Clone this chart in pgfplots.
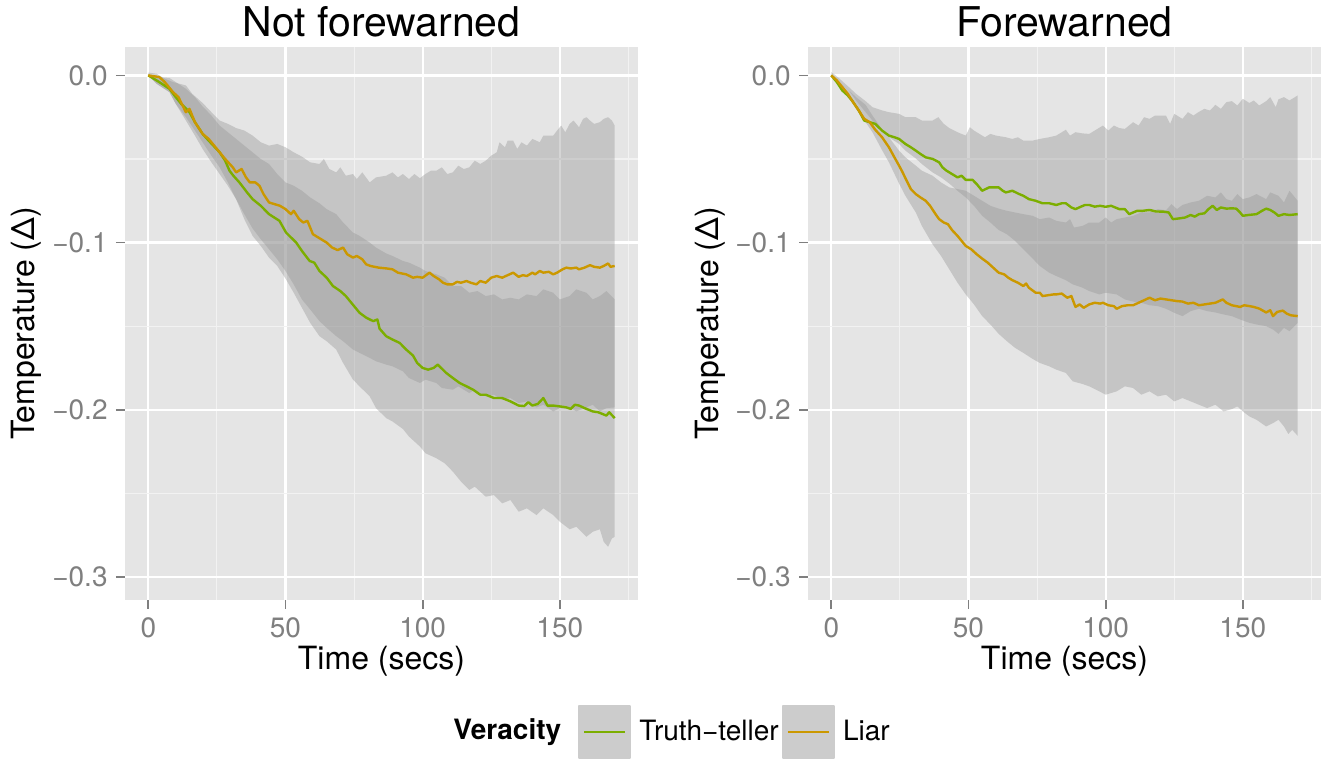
\documentclass[border=0pt]{standalone}
\usepackage{fontspec}
\setmainfont{TeX Gyre Heros}
\usepackage{pgfplots}
\usepackage{pgfplotstable}
\pgfplotsset{compat=1.18}
\usepgfplotslibrary{fillbetween}
\definecolor{bg}{RGB}{229,229,229}
\definecolor{ttgreen}{RGB}{124,174,0}
\definecolor{liargold}{RGB}{203,152,0}
\definecolor{ribbon}{RGB}{150,150,150}
\definecolor{minorgrid}{RGB}{242,242,242}
\definecolor{tickgray}{RGB}{127,127,127}
\definecolor{keygray}{RGB}{204,204,204}

% ---------------- Not forewarned ----------------
\pgfplotstableread{
t y
0 0
2 -0.002
4 -0.004
7.7 -0.008
10 -0.013
12 -0.017
15 -0.022
17 -0.028
19.8 -0.035
22 -0.039
26 -0.046
28 -0.051
29.6 -0.057
31 -0.060
33.2 -0.064
36 -0.070
38 -0.074
41 -0.078
44 -0.083
47.8 -0.087
50.2 -0.094
53.9 -0.100
56 -0.105
58.8 -0.111
60.5 -0.112
62.4 -0.117
65 -0.121
67.3 -0.126
70 -0.129
72 -0.132
75 -0.138
77 -0.142
79.5 -0.145
82 -0.147
83.5 -0.146
84.3 -0.1515
86.7 -0.156
89 -0.158
91.6 -0.160
94 -0.164
96.5 -0.1676
98 -0.172
100 -0.175
102 -0.176
104 -0.175
105.5 -0.173
108.6 -0.178
111 -0.181
113.5 -0.184
116 -0.186
118.4 -0.188
121 -0.191
123 -0.191
126 -0.193
129 -0.193
132 -0.195
135 -0.1975
137 -0.1978
138.5 -0.1955
140 -0.1975
142 -0.1965
144 -0.193
145.5 -0.1975
147.6 -0.1975
150 -0.198
152.4 -0.1986
154 -0.1995
155.5 -0.197
157 -0.1975
159 -0.199
162 -0.201
164 -0.2015
165.5 -0.2025
167 -0.2035
168 -0.2015
170 -0.205
}\nfTT

\pgfplotstableread{
t y
0 0
2 -0.0005
4 -0.001
6 -0.004
9 -0.010
11 -0.013
13.7 -0.022
15 -0.020
17 -0.028
19.8 -0.035
22 -0.038
24 -0.042
26 -0.046
28 -0.050
30.8 -0.055
32 -0.058
34 -0.056
35.6 -0.061
37 -0.064
39 -0.064
40.5 -0.066
42 -0.071
44 -0.076
46 -0.077
48 -0.078
50 -0.080
52 -0.083
53 -0.081
55 -0.086
56.5 -0.088
58 -0.087
60 -0.095
62 -0.097
65 -0.100
67 -0.103
69 -0.1045
71 -0.103
72.5 -0.107
74.6 -0.109
76 -0.108
78 -0.110
79.4 -0.113
81 -0.114
84 -0.115
87 -0.1155
89 -0.116
91 -0.118
94 -0.119
96.5 -0.121
98 -0.1205
100 -0.121
102.5 -0.118
104 -0.120
106 -0.122
107.4 -0.124
109 -0.125
111 -0.125
112.5 -0.1235
114 -0.124
116 -0.123
117.5 -0.124
119.6 -0.125
121 -0.123
123 -0.124
125 -0.121
127 -0.120
129 -0.121
131 -0.1195
133 -0.118
135 -0.1205
136.5 -0.1195
138 -0.120
140 -0.118
141 -0.119
142.7 -0.117
144 -0.118
146 -0.1175
147.6 -0.119
149 -0.118
151 -0.116
152.4 -0.115
154 -0.1155
156 -0.115
157 -0.116
159 -0.115
161 -0.1135
162.5 -0.1145
164.6 -0.115
166 -0.114
167.6 -0.1125
168.5 -0.1145
170 -0.114
}\nfLI

% Liar ribbon (not forewarned): upper and lower edges
\pgfplotstableread{
t y
0 0.0017
3 0.001
6 -0.002
9 -0.004
13.7 -0.006
16 -0.011
19.8 -0.0165
23 -0.022
26 -0.027
29 -0.029
32 -0.0315
35 -0.033
38 -0.036
41 -0.040
44 -0.042
47 -0.041
50 -0.043
53 -0.046
56 -0.0486
59 -0.052
62.4 -0.053
64 -0.050
66 -0.056
68.5 -0.058
70 -0.055
72 -0.060
74.6 -0.059
76 -0.062
78 -0.058
80.7 -0.064
83 -0.061
86.7 -0.060
89 -0.058
91 -0.061
92.8 -0.059
95 -0.062
97 -0.059
99 -0.0615
101 -0.059
103 -0.057
105 -0.057
107 -0.055
109 -0.059
111 -0.058
113 -0.054
115 -0.056
117 -0.055
119 -0.051
121 -0.053
123 -0.051
125 -0.048
127 -0.046
128 -0.040
130 -0.043
131 -0.039
133 -0.039
134.5 -0.044
136 -0.040
138 -0.042
140 -0.038
142.7 -0.040
144 -0.036
146 -0.036
147.6 -0.036
149 -0.033
150.5 -0.030
152 -0.034
153.6 -0.029
155 -0.027
157 -0.031
158.5 -0.026
159.7 -0.025
161 -0.027
162.5 -0.029
164.6 -0.028
166 -0.026
167.6 -0.025
169 -0.027
170 -0.030
}\nfLIup

\pgfplotstableread{
t y
0 0
3 -0.005
7.7 -0.010
10 -0.017
13.7 -0.025
17 -0.033
19.8 -0.040
23 -0.048
26 -0.055
29 -0.064
32 -0.074
35 -0.083
38 -0.0915
41 -0.098
44 -0.104
47 -0.110
50 -0.117
53 -0.125
56 -0.134
59 -0.140
62.4 -0.147
65 -0.151
68.5 -0.156
71 -0.159
74.6 -0.164
77 -0.166
80.7 -0.169
83 -0.171
86.7 -0.173
89 -0.174
92.8 -0.177
95 -0.181
99 -0.184
101 -0.182
105 -0.184
107 -0.187
111 -0.188
113 -0.186
117 -0.190
119 -0.188
123 -0.192
126 -0.191
129 -0.194
132 -0.193
135 -0.196
138 -0.195
141.5 -0.1986
144 -0.197
147.6 -0.201
150 -0.199
153.6 -0.1986
156 -0.201
159.7 -0.1986
162 -0.197
164.6 -0.201
167 -0.199
170 -0.1986
}\nfLIlo

% Truth-teller ribbon (not forewarned)
\pgfplotstableread{
t y
0 0
3 -0.001
7.7 -0.0015
10 -0.004
13.7 -0.008
17 -0.013
19.8 -0.0186
23 -0.024
26 -0.030
29 -0.034
32 -0.038
35 -0.042
38 -0.046
41 -0.050
44 -0.053
47 -0.059
50 -0.064
53 -0.066
56 -0.069
59 -0.073
62.4 -0.0765
65 -0.080
68.5 -0.083
71 -0.088
74.6 -0.094
77 -0.096
80.7 -0.100
83 -0.103
86.7 -0.1065
89 -0.108
92.8 -0.111
95 -0.112
99 -0.115
101 -0.117
105 -0.119
108 -0.121
111 -0.126
114 -0.126
117 -0.130
120 -0.129
123 -0.132
126 -0.131
129 -0.134
132 -0.133
135 -0.134
138 -0.131
141.5 -0.132
144 -0.128
147.6 -0.130
150 -0.134
153.6 -0.132
156 -0.128
159.7 -0.130
162 -0.134
164.6 -0.132
167 -0.129
170 -0.134
}\nfTTup

\pgfplotstableread{
t y
0 0
3 -0.005
7.7 -0.010
10 -0.017
13.7 -0.027
17 -0.036
19.8 -0.044
23 -0.052
26 -0.059
29 -0.066
32 -0.074
35 -0.086
38 -0.096
41 -0.102
44 -0.109
47 -0.114
50 -0.1215
53 -0.130
56 -0.139
59 -0.148
62.4 -0.156
65 -0.159
68.5 -0.164
71 -0.172
74.6 -0.182
77 -0.186
80.7 -0.192
83 -0.199
86.7 -0.205
89 -0.207
92.8 -0.2115
95 -0.216
99 -0.222
101 -0.226
105 -0.229
108 -0.232
111 -0.237
114 -0.243
117 -0.248
119 -0.246
123 -0.252
126 -0.251
129 -0.256
132 -0.254
135 -0.261
138 -0.259
141.5 -0.263
144 -0.259
147.6 -0.263
150 -0.267
153.6 -0.2715
156 -0.270
159.7 -0.276
162 -0.273
164.6 -0.2715
166 -0.279
167.6 -0.282
169 -0.277
170 -0.276
}\nfTTlo

% ---------------- Forewarned ----------------
\pgfplotstableread{
t y
0 0
2 -0.004
4 -0.009
6 -0.012
7.7 -0.0154
10 -0.021
12 -0.027
14 -0.028
16 -0.029
18.5 -0.033
21 -0.036
23 -0.037
24.7 -0.038
27 -0.041
29 -0.043
30.8 -0.045
32.5 -0.047
34.4 -0.049
37 -0.050
39.3 -0.052
40.5 -0.055
42 -0.057
44 -0.059
46 -0.061
47.5 -0.060
49 -0.0625
51.5 -0.0625
53 -0.065
55 -0.069
57.5 -0.067
61 -0.067
62.5 -0.069
63.6 -0.070
66 -0.069
68.5 -0.071
70 -0.072
72 -0.074
74.5 -0.075
77 -0.0765
79.5 -0.0765
82 -0.0775
84 -0.0765
85.5 -0.0765
87.5 -0.079
89 -0.080
91 -0.0785
92.5 -0.0775
94 -0.0775
96 -0.0785
98 -0.0780
100 -0.0786
102 -0.078
105 -0.080
107 -0.080
108.6 -0.083
110 -0.082
111.5 -0.081
113.5 -0.081
116 -0.0805
118.4 -0.0814
121 -0.0815
123 -0.082
124.5 -0.086
127 -0.0855
129 -0.085
131 -0.0835
132.5 -0.0845
134 -0.083
136 -0.0825
137.5 -0.080
139 -0.078
140.5 -0.0805
142 -0.079
144 -0.0797
146 -0.0795
147.6 -0.0797
149 -0.082
150 -0.084
152 -0.0835
155 -0.083
157 -0.081
158.5 -0.0797
160 -0.0805
161.5 -0.082
163 -0.084
165 -0.083
167 -0.0835
170 -0.083
}\fwTT

\pgfplotstableread{
t y
0 0
2 -0.003
4 -0.007
6 -0.011
7.7 -0.0154
10 -0.021
12 -0.026
14 -0.028
16 -0.0325
18.5 -0.037
21 -0.043
23 -0.049
24.7 -0.054
26 -0.058
27 -0.0615
29 -0.068
30.8 -0.071
32.5 -0.073
34.4 -0.075
36 -0.078
38 -0.083
39.3 -0.086
41 -0.088
42.5 -0.089
44 -0.0925
46 -0.096
47.5 -0.099
49 -0.102
51 -0.104
53 -0.107
55 -0.1096
57 -0.112
59 -0.115
61 -0.118
63 -0.119
64.5 -0.121
66 -0.1225
68 -0.124
70 -0.126
71 -0.1245
72 -0.127
74.5 -0.130
76 -0.130
77 -0.132
79 -0.1315
81 -0.131
82 -0.131
84 -0.1305
86 -0.133
87.5 -0.132
89 -0.1385
90.5 -0.137
92 -0.139
94 -0.137
96 -0.136
98 -0.1365
99 -0.136
101 -0.1375
103 -0.138
104 -0.1396
106 -0.138
108 -0.1375
110 -0.1375
112 -0.136
114 -0.1345
116 -0.133
118 -0.1345
120 -0.1335
122 -0.134
124 -0.1345
126 -0.135
128 -0.1353
130 -0.1365
132 -0.136
134 -0.1375
136 -0.137
138 -0.1365
140 -0.136
142.7 -0.134
144 -0.136
146 -0.1375
149 -0.1385
150.5 -0.1375
152.4 -0.138
154 -0.1385
156 -0.1395
158.5 -0.1418
160 -0.1405
161 -0.144
162.5 -0.1415
164.6 -0.1407
166 -0.1425
167.5 -0.1435
170 -0.144
}\fwLI

% Truth-teller ribbon (forewarned)
\pgfplotstableread{
t y
0 0.002
3 -0.002
6.4 -0.007
9 -0.011
12.5 -0.0154
15 -0.019
18.6 -0.021
21 -0.022
24.7 -0.023
27 -0.025
30.8 -0.025
33 -0.027
36.9 -0.027
39 -0.025
41 -0.029
43 -0.0315
46 -0.034
49 -0.036
50.5 -0.031
52 -0.033
54 -0.035
56 -0.037
58 -0.035
60 -0.036
63.6 -0.037
66 -0.038
68 -0.037
70 -0.039
73.4 -0.039
76 -0.038
79.4 -0.037
82 -0.036
85.5 -0.0325
87 -0.036
89 -0.034
91.6 -0.0347
94 -0.035
96 -0.033
99 -0.030
101 -0.033
103 -0.030
105 -0.0315
107 -0.032
110 -0.028
112 -0.030
114 -0.025
116 -0.026
118 -0.024
120 -0.024
122 -0.024
123.5 -0.029
125 -0.023
128 -0.026
130 -0.022
132 -0.024
134 -0.0218
136 -0.020
138 -0.021
140 -0.0176
142 -0.020
144 -0.016
146 -0.0154
148 -0.018
150 -0.014
152.4 -0.0165
154 -0.015
156 -0.018
158.5 -0.0154
160 -0.013
162 -0.019
163 -0.0143
165 -0.013
167 -0.015
170 -0.012
}\fwTTup

\pgfplotstableread{
t y
0 0
3 -0.004
6.4 -0.009
9 -0.015
12.5 -0.022
15 -0.027
18.6 -0.0336
21 -0.037
24.7 -0.041
27 -0.045
30.8 -0.0497
33 -0.053
36.9 -0.058
40 -0.061
43 -0.0647
46 -0.069
49 -0.073
52 -0.078
55 -0.084
58 -0.088
61 -0.0925
64 -0.095
67 -0.099
70 -0.104
73.4 -0.1096
76 -0.114
79.4 -0.118
82 -0.120
85.5 -0.1225
88 -0.125
91.6 -0.127
94 -0.129
97.7 -0.131
100 -0.130
104 -0.131
107 -0.134
110 -0.1353
113 -0.136
116 -0.1375
119 -0.138
122 -0.1396
125 -0.142
128 -0.144
131 -0.141
134 -0.1396
137 -0.141
140 -0.1418
143 -0.143
146 -0.144
149 -0.146
152.4 -0.148
155 -0.149
158.5 -0.150
161 -0.152
163 -0.1546
165 -0.151
167 -0.153
170 -0.148
}\fwTTlo

% Liar ribbon (forewarned)
\pgfplotstableread{
t y
0 0
3 -0.004
6.4 -0.009
9 -0.013
12.5 -0.0176
15 -0.024
18.6 -0.0325
21 -0.037
24.7 -0.045
27 -0.049
30.8 -0.054
33 -0.057
36.9 -0.060
40 -0.064
43 -0.067
46 -0.068
49 -0.069
52 -0.072
55 -0.075
58 -0.078
61 -0.0797
64 -0.081
67 -0.082
70 -0.083
73.4 -0.084
76 -0.086
79.4 -0.085
82 -0.087
85.5 -0.088
87 -0.086
88.5 -0.091
91.6 -0.090
94 -0.088
97.7 -0.088
100 -0.085
102 -0.088
104 -0.086
107 -0.085
110 -0.084
113 -0.082
116 -0.082
119 -0.080
122 -0.0807
124 -0.077
126 -0.080
128 -0.0775
131 -0.076
134 -0.075
137 -0.072
140 -0.073
142 -0.070
144 -0.074
146 -0.075
148 -0.071
150 -0.074
152.4 -0.073
155 -0.071
158.5 -0.074
160 -0.070
163 -0.072
165 -0.076
167 -0.069
170 -0.075
}\fwLIup

\pgfplotstableread{
t y
0 0
3 -0.006
6.4 -0.013
9 -0.019
12.5 -0.028
15 -0.034
18.6 -0.045
21 -0.052
24.7 -0.0647
27 -0.072
30.8 -0.082
33 -0.090
36.9 -0.101
40 -0.108
43 -0.116
46 -0.124
49 -0.131
52 -0.137
55 -0.144
58 -0.149
61 -0.1546
64 -0.159
67 -0.163
70 -0.166
73.4 -0.1696
76 -0.172
79.4 -0.174
82 -0.176
85.5 -0.178
88 -0.183
91.6 -0.1846
94 -0.186
97.7 -0.189
100 -0.191
104 -0.189
107 -0.186
110 -0.187
113 -0.191
116 -0.189
119 -0.192
122 -0.191
125 -0.195
128 -0.193
131 -0.195
134 -0.197
137 -0.199
140 -0.197
143 -0.201
146 -0.1996
148 -0.198
150 -0.201
152.4 -0.204
155 -0.206
158.5 -0.210
161 -0.208
163 -0.206
165 -0.210
166.6 -0.2145
168 -0.212
170 -0.2156
}\fwLIlo

\pgfplotsset{
  every axis title/.style={at={(axis description cs:0.5,1.01808)}, anchor=base,
    inner sep=0pt, font=\fontsize{20.5}{24}\selectfont},
  every axis x label/.style={at={(axis description cs:0.5,-0.12658)}, anchor=base,
    inner sep=0pt, font=\fontsize{16}{19}\selectfont},
  every axis y label/.style={at={(axis description cs:-0.17544,0.5)}, rotate=90,
    anchor=base, inner sep=0pt, font=\fontsize{16}{19}\selectfont},
  panel/.style={
    scale only axis, width=256.5pt, height=276.5pt,
    xmin=-8.5, xmax=178.5, ymin=-0.3138, ymax=0.0170,
    axis background/.style={fill=bg},
    axis line style={draw=none},
    xtick={0,50,100,150}, xticklabels={0,50,100,150},
    ytick={-0.3,-0.2,-0.1,0}, yticklabels={−0.3,−0.2,−0.1,0.0},
    minor xtick={25,75,125,175}, minor ytick={-0.25,-0.15,-0.05},
    grid=both,
    major grid style={white, line width=1.1pt},
    minor grid style={minorgrid, line width=0.55pt},
    tick align=outside, tick pos=left,
    major tick length=4.5pt, minor tick length=0pt,
    major tick style={tickgray, line width=0.9pt},
    tick label style={font=\fontsize{14}{16}\selectfont, text=tickgray},
    xticklabel style={anchor=north, inner sep=0pt, yshift=-4pt},
    yticklabel style={anchor=east, inner sep=0pt, xshift=-4pt},
    xlabel={Time (secs)}, ylabel={Temperature (Δ)},
    no markers,
  },
  rib/.style={fill=ribbon, fill opacity=0.4, draw=none, forget plot},
  edge/.style={draw=none, forget plot},
  dataline/.style={line width=1.2pt, line join=round},
}

\begin{document}
\begin{tikzpicture}

\begin{axis}[panel, at={(62.5pt,81.5pt)}, anchor=south west,
  title={Not forewarned},
  legend columns=2,
  legend style={draw=none, fill=none, inner sep=0pt, outer sep=0pt,
    at={(axis description cs:0.88304,-0.2387)}, anchor=west,
    font=\fontsize{14}{16}\selectfont,
    nodes={inner sep=0pt, anchor=west},
    /tikz/every odd column/.style={column sep=4pt},
    /tikz/every even column/.style={column sep=1.5pt}},
  legend image code/.code={
    \fill[keygray] (0pt,-13pt) rectangle (25.5pt,13pt);
    \draw[#1] (2.5pt,0pt) -- (23pt,0pt);},
]
\addplot[edge, name path=nfLIu] table[x=t,y=y] {\nfLIup};
\addplot[edge, name path=nfLIl] table[x=t,y=y] {\nfLIlo};
\addplot[edge, name path=nfTTu] table[x=t,y=y] {\nfTTup};
\addplot[edge, name path=nfTTl] table[x=t,y=y] {\nfTTlo};
\addplot[rib] fill between[of=nfTTu and nfTTl];
\addplot[rib] fill between[of=nfLIu and nfLIl];
\addplot[ttgreen, dataline] table[x=t,y=y] {\nfTT};
\addlegendentry{Truth−teller}
\addplot[liargold, dataline] table[x=t,y=y] {\nfLI};
\addlegendentry{Liar}
\end{axis}

\begin{axis}[panel, at={(404pt,81.5pt)}, anchor=south west,
  title={Forewarned}]
\addplot[edge, name path=fwLIu] table[x=t,y=y] {\fwLIup};
\addplot[edge, name path=fwLIl] table[x=t,y=y] {\fwLIlo};
\addplot[edge, name path=fwTTu] table[x=t,y=y] {\fwTTup};
\addplot[edge, name path=fwTTl] table[x=t,y=y] {\fwTTlo};
\addplot[rib] fill between[of=fwTTu and fwTTl];
\addplot[rib] fill between[of=fwLIu and fwLIl];
\addplot[ttgreen, dataline] table[x=t,y=y] {\fwTT};
\addplot[liargold, dataline] table[x=t,y=y] {\fwLI};
\end{axis}

\node[anchor=base west, inner sep=0pt, font=\fontsize{14}{16}\selectfont\bfseries]
  at (226.5pt,11.5pt) {Veracity};
\useasboundingbox (0,0) rectangle (664.5pt,381.5pt);
\end{tikzpicture}
\end{document}
